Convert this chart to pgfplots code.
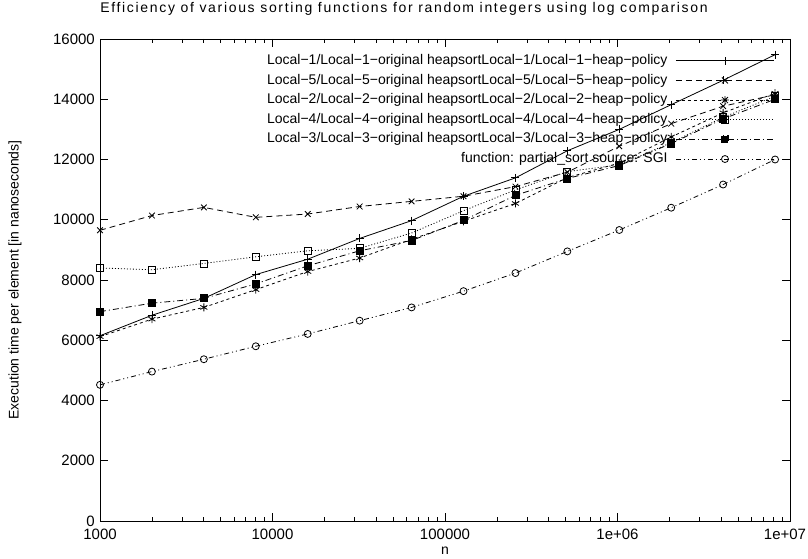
\documentclass[border=0pt]{standalone}
\usepackage{fontspec}
\setmainfont{Liberation Sans}
\usepackage{pgfplots}
\pgfplotsset{compat=1.18}
\usepackage{pgfplotstable}
\newcommand\fs{\fontsize{14}{16}\selectfont}
\newcommand\fst{\fontsize{15}{17}\selectfont}
\pgfplotstableread{
n l1 l5 l2 l4 l3 sgi
1000 6150 9650 6120 8400 6950 4520
2000 6830 10140 6700 8340 7230 4960
4000 7390 10410 7090 8550 7390 5370
8000 8180 10080 7680 8770 7870 5800
16000 8690 10190 8280 8970 8470 6210
32000 9380 10440 8730 9050 8970 6650
64000 9970 10610 9350 9560 9310 7090
128000 10780 10780 9950 10300 9980 7630
256000 11390 11100 10540 10990 10810 8230
512000 12290 11580 11400 11600 11370 8950
1024000 13000 12440 11880 11820 11800 9660
2048000 13820 13190 12750 12560 12530 10400
4096000 14630 13770 13550 13400 13350 11170
8192000 15480 14150 14200 14100 14000 12000
}\data
\pgfplotsset{
  lgd/.style 2 args={legend image code/.code={
    \draw[line width=0.8pt, black, #1] (0pt,0pt) -- (98pt,0pt);
    #2
  }},
}
\newcommand\mkplus{\draw[solid, line width=0.8pt] (45pt,0pt) -- (53pt,0pt) (49pt,-4pt) -- (49pt,4pt);}
\newcommand\mkx{\draw[solid, line width=0.8pt] (46pt,-3pt) -- (52pt,3pt) (46pt,3pt) -- (52pt,-3pt);}
\newcommand\mkast{\draw[solid, line width=0.8pt] (45pt,0pt) -- (53pt,0pt) (49pt,-4pt) -- (49pt,4pt) (46pt,-3pt) -- (52pt,3pt) (46pt,3pt) -- (52pt,-3pt);}
\newcommand\mksq{\draw[solid, line width=0.8pt] (45.5pt,-3.5pt) rectangle (52.5pt,3.5pt);}
\newcommand\mksqf{\fill[black] (45.5pt,-3.5pt) rectangle (52.5pt,3.5pt);}
\newcommand\mkcirc{\draw[solid, line width=0.8pt] (49pt,0pt) circle[radius=3.5pt];}
\begin{document}
\begin{tikzpicture}
\begin{axis}[
  scale only axis, width=690pt, height=482pt,
  xmode=log, xmin=1000, xmax=10000000, ymin=0, ymax=16000,
  xtick={1000,10000,100000,1000000,10000000},
  xticklabels={1000,10000,100000,1e+06,\hspace*{-10pt}1e+07},
  minor xtick={2000,3000,4000,5000,6000,7000,8000,9000,20000,30000,40000,50000,60000,70000,80000,90000,200000,300000,400000,500000,600000,700000,800000,900000,2000000,3000000,4000000,5000000,6000000,7000000,8000000,9000000},
  ytick={0,2000,4000,6000,8000,10000,12000,14000,16000},
  yticklabels={0,2000,4000,6000,8000,10000,12000,14000,16000},
  scaled y ticks=false,
  tick pos=both, tick align=inside,
  major tick length=8pt, minor tick length=4pt,
  every tick/.style={black, line width=0.8pt},
  axis line style={line width=0.8pt},
  tick label style={font=\fst},
  xticklabel style={inner sep=0pt, yshift=-8pt},
  yticklabel style={inner sep=0pt, xshift=-5pt},
  title={Efficiency of various sorting functions for random integers using log comparison},
  title style={font=\fs\addfontfeatures{LetterSpace=12}, at={(axis description cs:0.4406,1)}, anchor=center, yshift=24pt},
  xlabel={n},
  ylabel={Execution time per element [in nanoseconds]},
  every axis x label/.style={at={(axis description cs:0.5,-0.062)}, anchor=center, font=\fs},
  every axis y label/.style={at={(axis description cs:-0.1232,0.5)}, rotate=90, anchor=center, font=\fs},
  every axis legend/.style={shape=rectangle, inner xsep=3pt, inner ysep=2pt,
    at={(axis description cs:0.982,0.975)}, anchor=north east, font=\fs,
    row sep=4.6pt, column sep=6pt, nodes={inner sep=2pt, inner ysep=1pt}},
  legend cell align=right,
  legend plot pos=right,
  every axis plot/.append style={line width=0.8pt, black, mark size=4pt, mark options={solid, line width=0.8pt}},
  clip=false,
]
\addplot[mark=+, lgd={solid}{\mkplus}] table[x=n,y=l1] {\data};
\addlegendentry{Local−1/Local−1−original heapsortLocal−1/Local−1−heap−policy}
\addplot[mark=x, dash pattern=on 6pt off 4pt, lgd={dash pattern=on 6pt off 4pt}{\mkx}] table[x=n,y=l5] {\data};
\addlegendentry{Local−5/Local−5−original heapsortLocal−5/Local−5−heap−policy}
\addplot[mark=asterisk, dash pattern=on 3pt off 3pt, lgd={dash pattern=on 3pt off 3pt}{\mkast}] table[x=n,y=l2] {\data};
\addlegendentry{Local−2/Local−2−original heapsortLocal−2/Local−2−heap−policy}
\addplot[mark=square, mark size=3.5pt, dash pattern=on 1pt off 2pt, lgd={dash pattern=on 1pt off 2pt}{\mksq}] table[x=n,y=l4] {\data};
\addlegendentry{Local−4/Local−4−original heapsortLocal−4/Local−4−heap−policy}
\addplot[mark=square*, mark size=3.5pt, dash pattern=on 6pt off 3pt on 1pt off 3pt, lgd={dash pattern=on 6pt off 3pt on 1pt off 3pt}{\mksqf}] table[x=n,y=l3] {\data};
\addlegendentry{Local−3/Local−3−original heapsortLocal−3/Local−3−heap−policy}
\addplot[mark=o, mark size=3.5pt, dash pattern=on 5pt off 3pt on 1pt off 3pt on 1pt off 3pt, lgd={dash pattern=on 5pt off 3pt on 1pt off 3pt on 1pt off 3pt}{\mkcirc}] table[x=n,y=sgi] {\data};
\addlegendentry{function: partial\_sort source: SGI}
\end{axis}
\pgfresetboundingbox
\path (-100pt,-37pt) rectangle (708pt,521pt);
\end{tikzpicture}
\end{document}
